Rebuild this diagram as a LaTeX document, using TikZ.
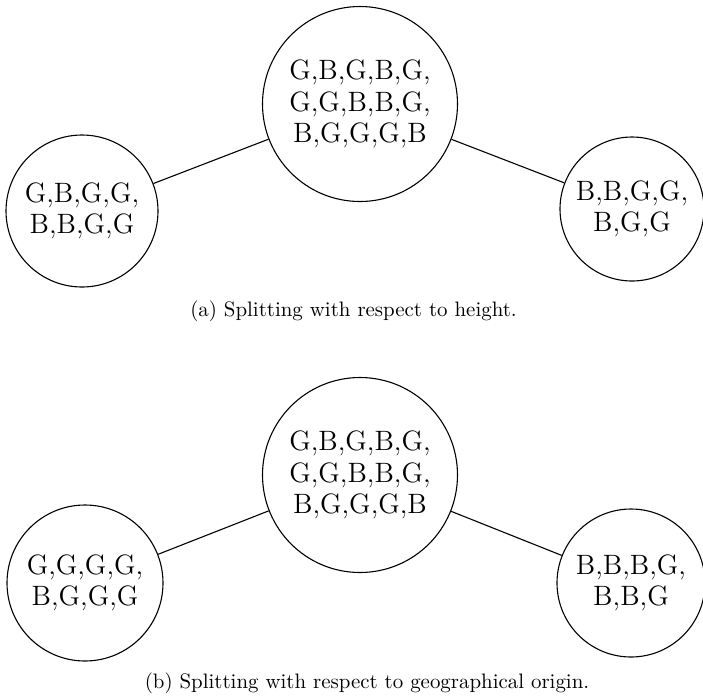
\documentclass[tikz,border=0pt]{standalone}
\begin{document}
\begin{tikzpicture}[x=0.5pt,y=-0.5pt,
  every node/.style={inner sep=0pt},
  bag/.style={draw,circle,line width=0.55pt,align=center,
    font=\fontsize{14}{15.75}\selectfont},
  link/.style={line width=0.55pt},
  caption/.style={anchor=base,font=\fontsize{10.45}{12.5}\selectfont}]
\useasboundingbox (0,0) rectangle (703,698);

% (a) split by height
\node[bag,minimum size=97.5pt] (ac) at (360,104) {G,B,G,B,G,\\G,G,B,B,G,\\B,G,G,G,B};
\node[bag,minimum size=76pt] (al) at (82,211) {G,B,G,G,\\B,B,G,G};
\node[bag,minimum size=72pt] (ar) at (632,209) {B,B,G,G,\\B,G,G};
\draw[link] (ac) -- (al);
\draw[link] (ac) -- (ar);
\node[caption] (acap) at (353.5,316) {(a) Splitting with respect to height.};

% (b) split by geographical origin
\node[bag,minimum size=97.5pt] (bc) at (360,475) {G,B,G,B,G,\\G,G,B,B,G,\\B,G,G,G,B};
\node[bag,minimum size=78pt] (bl) at (85,583) {G,G,G,G,\\B,G,G,G};
\node[bag,minimum size=74pt] (br) at (631,583) {B,B,B,G,\\B,B,G};
\draw[link] (bc) -- (bl);
\draw[link] (bc) -- (br);
\node[caption] (bcap) at (367,688) {(b) Splitting with respect to geographical origin.};
\end{tikzpicture}
\end{document}
